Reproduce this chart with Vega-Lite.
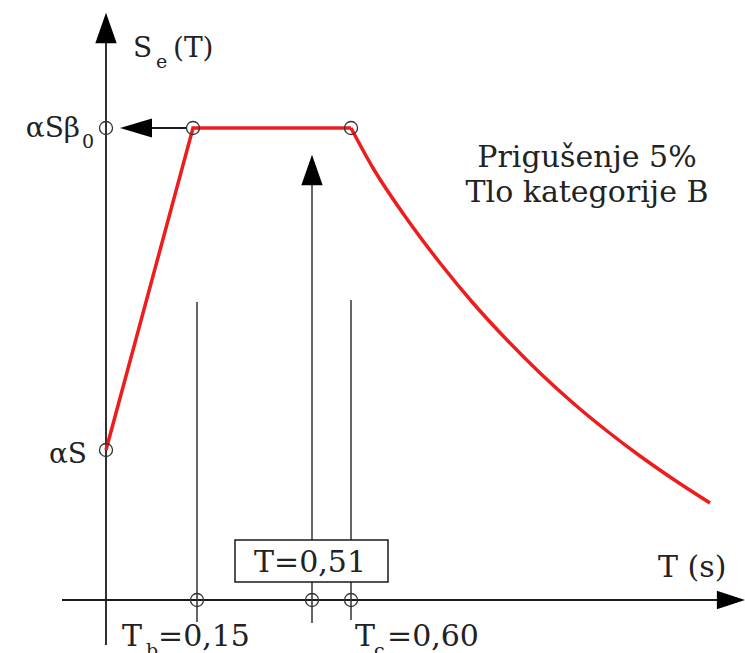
{
  "$schema": "https://vega.github.io/schema/vega-lite/v6.json",
  "width": 745,
  "height": 653,
  "autosize": {"type": "none"},
  "padding": 0,
  "background": "white",
  "config": {"view": {"stroke": null}, "text": {"font": "DejaVu Serif"}},
  "datasets": {
    "lines": [
      {"name": "y-axis", "x": 0, "x2": 0, "y": -45, "y2": 557, "kind": "axis"},
      {"name": "x-axis", "x": -44, "x2": 615, "y": 0, "y2": 0, "kind": "axis"},
      {"name": "shaft", "x": 46, "x2": 80, "y": 472, "y2": 472, "kind": "axis"},
      {"name": "Tb", "x": 91, "x2": 91, "y": -22, "y2": 298, "kind": "thin"},
      {"name": "T", "x": 206, "x2": 206, "y": -23, "y2": 416, "kind": "thin"},
      {"name": "Tc", "x": 245, "x2": 245, "y": -20, "y2": 300, "kind": "thin"}
    ],
    "box": [{"x": 129, "x2": 282, "y": 60, "y2": 18}],
    "redStraight": [
      {"x": 0, "y": 150, "o": 1},
      {"x": 87, "y": 472, "o": 2},
      {"x": 245, "y": 472, "o": 3}
    ],
    "redCurve": [
      {"x": 245, "y": 472},
      {"x": 267, "y": 432},
      {"x": 301, "y": 381},
      {"x": 334, "y": 337},
      {"x": 367, "y": 297},
      {"x": 401, "y": 260},
      {"x": 434, "y": 227},
      {"x": 467, "y": 197},
      {"x": 501, "y": 169},
      {"x": 534, "y": 144},
      {"x": 567, "y": 121},
      {"x": 604, "y": 97}
    ],
    "circles": [
      {"x": 0, "y": 472},
      {"x": 87, "y": 472},
      {"x": 245, "y": 472},
      {"x": 0, "y": 150},
      {"x": 91, "y": 0},
      {"x": 206, "y": 0},
      {"x": 245, "y": 0}
    ],
    "arrows": [
      {"x": 0, "y": 572, "dir": "up"},
      {"x": 206, "y": 430, "dir": "up"},
      {"x": 625, "y": 0, "dir": "right"},
      {"x": 30, "y": 472, "dir": "left"}
    ],
    "labels": [
      {"text": "T=0,51", "x": 204, "y": 28, "g": "bigC"},
      {"text": "Prigušenje 5%", "x": 481, "y": 433, "g": "bigC"},
      {"text": "Tlo kategorije B", "x": 481, "y": 398, "g": "bigC"},
      {"text": "T (s)", "x": 552, "y": 23, "g": "bigL"},
      {"text": "T", "x": 16, "y": -46, "g": "bigL"},
      {"text": "=0,15", "x": 52, "y": -46, "g": "bigL"},
      {"text": "T", "x": 249, "y": -46, "g": "bigL"},
      {"text": "=0,60", "x": 281, "y": -46, "g": "bigL"},
      {"text": "b", "x": 40, "y": -57, "g": "sub"},
      {"text": "c", "x": 268, "y": -57, "g": "sub"},
      {"text": "S", "x": 27, "y": 543, "g": "medL"},
      {"text": "(T)", "x": 67, "y": 543, "g": "medL"},
      {"text": "e", "x": 50, "y": 532, "g": "sub"},
      {"text": "αSβ", "x": -26, "y": 463, "g": "medR"},
      {"text": "0", "x": -24, "y": 452, "g": "sub"},
      {"text": "αS", "x": -19, "y": 137, "g": "medR"}
    ]
  },
  "encoding": {
    "x": {"field": "x", "type": "quantitative", "scale": {"domain": [-106, 639], "nice": false, "zero": false}, "axis": null},
    "y": {"field": "y", "type": "quantitative", "scale": {"domain": [-53, 600], "nice": false, "zero": false}, "axis": null}
  },
  "layer": [
    {
      "data": {"name": "lines"},
      "transform": [{"filter": "datum.kind === 'axis'"}],
      "mark": {"type": "rule", "color": "#1a1a1a", "strokeWidth": 1.8},
      "encoding": {"x2": {"field": "x2"}, "y2": {"field": "y2"}}
    },
    {
      "data": {"name": "lines"},
      "transform": [{"filter": "datum.kind === 'thin'"}],
      "mark": {"type": "rule", "color": "#333333", "strokeWidth": 1.5},
      "encoding": {"x2": {"field": "x2"}, "y2": {"field": "y2"}}
    },
    {
      "data": {"name": "box"},
      "mark": {"type": "rect", "fill": "white", "stroke": "#1a1a1a", "strokeWidth": 1.5},
      "encoding": {"x2": {"field": "x2"}, "y2": {"field": "y2"}}
    },
    {
      "data": {"name": "redStraight"},
      "mark": {"type": "line", "color": "#ee1c1c", "strokeWidth": 3.5},
      "encoding": {"order": {"field": "o"}}
    },
    {
      "data": {"name": "redCurve"},
      "mark": {"type": "line", "color": "#ee1c1c", "strokeWidth": 3.5, "interpolate": "monotone"},
      "encoding": {}
    },
    {
      "data": {"name": "circles"},
      "mark": {"type": "point", "shape": "circle", "filled": false, "stroke": "#333333", "strokeWidth": 1.3, "size": 170, "opacity": 1},
      "encoding": {}
    },
    {
      "data": {"name": "arrows"},
      "transform": [{"filter": "datum.dir === 'up'"}],
      "mark": {"type": "point", "shape": "M0,-1L0.7,1L-0.7,1Z", "filled": true, "color": "black", "size": 930, "opacity": 1, "strokeWidth": 0},
      "encoding": {}
    },
    {
      "data": {"name": "arrows"},
      "transform": [{"filter": "datum.dir === 'right'"}],
      "mark": {"type": "point", "shape": "M1,0L-1,-0.65L-1,0.65Z", "filled": true, "color": "black", "size": 800, "opacity": 1, "strokeWidth": 0},
      "encoding": {}
    },
    {
      "data": {"name": "arrows"},
      "transform": [{"filter": "datum.dir === 'left'"}],
      "mark": {"type": "point", "shape": "M-1,0L1,-0.6L1,0.6Z", "filled": true, "color": "black", "size": 1024, "opacity": 1, "strokeWidth": 0},
      "encoding": {}
    },
    {
      "data": {"name": "labels"},
      "transform": [{"filter": "datum.g === 'bigC'"}],
      "mark": {"type": "text", "font": "DejaVu Serif", "fontSize": 30, "align": "center", "baseline": "alphabetic", "color": "#222222"},
      "encoding": {"text": {"field": "text"}}
    },
    {
      "data": {"name": "labels"},
      "transform": [{"filter": "datum.g === 'bigL'"}],
      "mark": {"type": "text", "font": "DejaVu Serif", "fontSize": 30, "align": "left", "baseline": "alphabetic", "color": "#222222"},
      "encoding": {"text": {"field": "text"}}
    },
    {
      "data": {"name": "labels"},
      "transform": [{"filter": "datum.g === 'medL'"}],
      "mark": {"type": "text", "font": "DejaVu Serif", "fontSize": 28, "align": "left", "baseline": "alphabetic", "color": "#222222"},
      "encoding": {"text": {"field": "text"}}
    },
    {
      "data": {"name": "labels"},
      "transform": [{"filter": "datum.g === 'medR'"}],
      "mark": {"type": "text", "font": "DejaVu Serif", "fontSize": 28, "align": "right", "baseline": "alphabetic", "color": "#222222"},
      "encoding": {"text": {"field": "text"}}
    },
    {
      "data": {"name": "labels"},
      "transform": [{"filter": "datum.g === 'sub'"}],
      "mark": {"type": "text", "font": "DejaVu Serif", "fontSize": 19, "align": "left", "baseline": "alphabetic", "color": "#222222"},
      "encoding": {"text": {"field": "text"}}
    }
  ]
}
